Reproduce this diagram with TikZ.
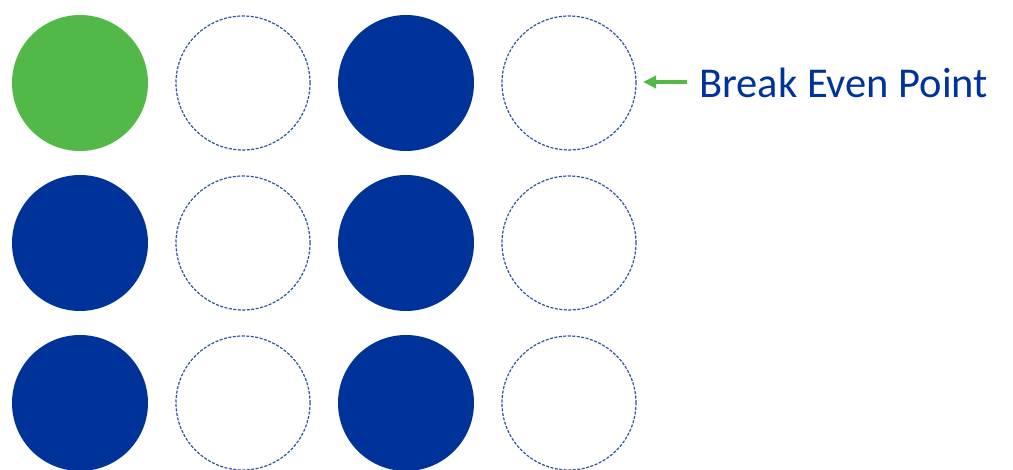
\documentclass[tikz,border=0pt]{standalone}
\usepackage{fontspec}
\setmainfont{Carlito}
\usetikzlibrary{arrows.meta}
\definecolor{dblue}{RGB}{0,51,153}
\definecolor{lgreen}{RGB}{82,184,72}
\definecolor{dashblue}{RGB}{47,82,160}
\begin{document}
\begin{tikzpicture}[x=1pt,y=-1pt,
  solidc/.style={circle,fill=dblue,draw=none,minimum size=136pt,inner sep=0pt},
  greenc/.style={circle,fill=lgreen,draw=none,minimum size=136pt,inner sep=0pt},
  emptyc/.style={circle,draw=dashblue,line width=1.2pt,dash pattern=on 3pt off 1.5pt,minimum size=134pt,inner sep=0pt},
  lbl/.style={font=\fontsize{42.5}{50}\selectfont,text=dblue,anchor=west,inner sep=0pt},
  pointer/.style={draw=lgreen,line width=3.6pt,-{Triangle[length=13pt,width=12pt]}}]
\useasboundingbox (0,0) rectangle (1013,470);
\node[greenc] (c11) at (80,83) {};
\node[emptyc] (c12) at (243,83) {};
\node[solidc] (c13) at (406,83) {};
\node[emptyc] (c14) at (569,83) {};
\node[solidc] (c21) at (80,243) {};
\node[emptyc] (c22) at (243,243) {};
\node[solidc] (c23) at (406,243) {};
\node[emptyc] (c24) at (569,243) {};
\node[solidc] (c31) at (80,403) {};
\node[emptyc] (c32) at (243,403) {};
\node[solidc] (c33) at (406,403) {};
\node[emptyc] (c34) at (569,403) {};
\node[lbl] (txt) at (699,83) {Break Even Point};
\coordinate (astart) at (687,82);
\coordinate (aend) at (643,82);
\draw[pointer] (astart) -- (aend);
\end{tikzpicture}
\end{document}
